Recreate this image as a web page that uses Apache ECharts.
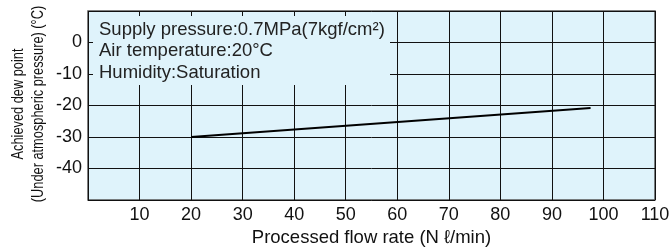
<!DOCTYPE html>
<html>
<head>
<meta charset="utf-8">
<script src="https://cdn.jsdelivr.net/npm/echarts@6/dist/echarts.min.js"></script>
<style>
  html, body { margin: 0; padding: 0; background: #fff; }
  #chart { width: 672px; height: 250px; }
</style>
</head>
<body>
<div id="chart"></div>
<script>
  // dew point line (two end points)
  var flowRate = [20, 97.5];
  var dewPoint = [-30, -20.8];

  var xTicks = [10, 20, 30, 40, 50, 60, 70, 80, 90, 100, 110];
  var yTicks = [0, -10, -20, -30, -40];

  var noteLines = [
    'Supply pressure:0.7MPa(7kgf/cm²)',
    'Air temperature:20°C',
    'Humidity:Saturation'
  ];
  var yTitle = ['Achieved dew point', '(Under atmospheric pressure) (°C)'];

  var font = 'Liberation Sans, Arial, Helvetica, sans-serif';

  var chart = echarts.init(document.getElementById('chart'));

  chart.setOption({
    animation: false,
    grid: {
      left: 88, right: 17, top: 11, bottom: 50,
      outerBoundsMode: 'none',
      containLabel: false,
      show: true,
      backgroundColor: '#dff3fb',
      borderColor: '#555',
      borderWidth: 1.5
    },
    xAxis: {
      type: 'value',
      min: 0, max: 110, interval: 10,
      name: 'Processed flow rate (N ℓ/min)',
      nameLocation: 'middle',
      nameGap: 27,
      nameTextStyle: { fontFamily: font, fontSize: 18.5, color: '#111' },
      axisLine: { show: false },
      axisTick: { show: false },
      splitLine: { lineStyle: { color: '#111', width: 1 } },
      axisLabel: {
        margin: 6,
        fontFamily: font, fontSize: 18, color: '#111',
        formatter: function (v) { return xTicks.indexOf(v) >= 0 ? String(v) : ''; }
      }
    },
    yAxis: {
      type: 'value',
      min: -50, max: 10, interval: 10,
      axisLine: { show: false },
      axisTick: { show: false },
      splitLine: { lineStyle: { color: '#111', width: 1 } },
      axisLabel: {
        margin: 6,
        fontFamily: font, fontSize: 18, color: '#111',
        formatter: function (v) { return yTicks.indexOf(v) >= 0 ? String(v) : ''; }
      }
    },
    graphic: [
      {
        // y axis title, condensed like the original
        type: 'text',
        x: 28.5,
        y: 104,
        rotation: Math.PI / 2,
        scaleX: 0.8,
        style: {
          text: yTitle.join('\n'),
          font: '16px ' + font,
          lineHeight: 20,
          fill: '#111',
          align: 'center',
          verticalAlign: 'middle'
        }
      },
      {
        type: 'rect',
        z: 10,
        shape: { x: 93, y: 16, width: 297, height: 69 },
        style: { fill: '#dff3fb' }
      },
      {
        type: 'text',
        z: 11,
        x: 99,
        y: 19,
        style: {
          text: noteLines.join('\n'),
          font: '18.5px ' + font,
          lineHeight: 21.5,
          fill: '#222',
          verticalAlign: 'top'
        }
      }
    ],
    series: [
      {
        type: 'line',
        data: flowRate.map(function (x, i) { return [x, dewPoint[i]]; }),
        symbol: 'none',
        lineStyle: { color: '#000', width: 2 },
        z: 5
      }
    ]
  });
</script>
</body>
</html>
